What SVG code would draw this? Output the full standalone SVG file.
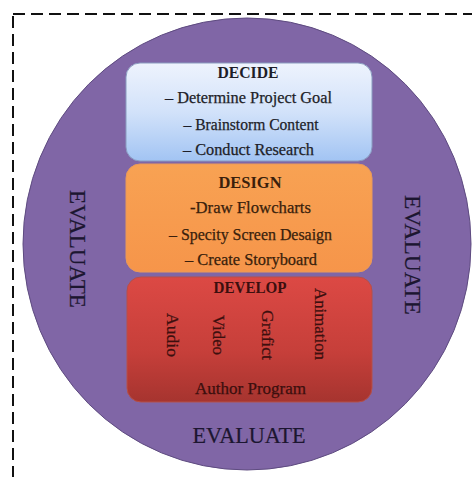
<svg xmlns="http://www.w3.org/2000/svg" width="472" height="477" viewBox="0 0 472 477">
  <defs>
    <linearGradient id="gDecide" x1="0" y1="0" x2="0" y2="1">
      <stop offset="0" stop-color="#EEF3FD"/>
      <stop offset="0.5" stop-color="#D2E2FA"/>
      <stop offset="1" stop-color="#A2C4F3"/>
    </linearGradient>
    <linearGradient id="gDesign" x1="0" y1="0" x2="0" y2="1">
      <stop offset="0" stop-color="#F8A253"/>
      <stop offset="1" stop-color="#F6954A"/>
    </linearGradient>
    <linearGradient id="gDevelop" x1="0" y1="0" x2="0" y2="1">
      <stop offset="0" stop-color="#DC4944"/>
      <stop offset="0.6" stop-color="#C63F3A"/>
      <stop offset="1" stop-color="#A6342F"/>
    </linearGradient>
    <style>
      .frame { fill: none; stroke: #111; stroke-width: 2; stroke-dasharray: 12 6; }
      .cycle { fill: #8066A6; stroke: #5E4B80; stroke-width: 1; }
      .box { stroke-width: 1; }
      text { font-family: "Liberation Serif", "DejaVu Serif", serif; text-anchor: middle; }
      .head { font-size: 16px; font-weight: bold; }
      .item { font-size: 16px; stroke-width: 0.25px; }
      .eval { font-size: 24px; fill: #1C1630; stroke: #1C1630; stroke-width: 0.2px; }
      .t-decide { fill: #1E1E28; stroke: #1E1E28; }
      .t-design { fill: #3A1F0C; stroke: #3A1F0C; }
      .t-develop { fill: #3C0F0E; stroke: #3C0F0E; }
      .head.t-decide, .head.t-design, .head.t-develop { stroke: none; }
    </style>
  </defs>

  <!-- dashed page frame, runs off the right and bottom edges -->
  <rect class="frame" x="13" y="14" width="480" height="490"/>

  <!-- outer evaluation cycle -->
  <g id="evaluate">
    <ellipse class="cycle" cx="247" cy="244" rx="224" ry="226"/>
    <text class="eval" transform="translate(78,249) rotate(90)" y="8" textLength="118" lengthAdjust="spacingAndGlyphs">EVALUATE</text>
    <text class="eval" transform="translate(413,255) rotate(90)" y="8" textLength="120" lengthAdjust="spacingAndGlyphs">EVALUATE</text>
    <text class="eval" x="249" y="443" font-size="25" textLength="113" lengthAdjust="spacingAndGlyphs">EVALUATE</text>
  </g>

  <g id="decide">
    <rect class="box" x="126" y="63" width="246" height="98" rx="14" fill="url(#gDecide)" stroke="#8A9CC0"/>
    <text class="head t-decide" x="248" y="78" textLength="61" lengthAdjust="spacingAndGlyphs">DECIDE</text>
    <text class="item t-decide" x="248.5" y="103" textLength="167" lengthAdjust="spacingAndGlyphs">– Determine Project Goal</text>
    <text class="item t-decide" x="251" y="130" textLength="135" lengthAdjust="spacingAndGlyphs">– Brainstorm Content</text>
    <text class="item t-decide" x="248.5" y="155" textLength="131" lengthAdjust="spacingAndGlyphs">– Conduct Research</text>
  </g>

  <g id="design">
    <rect class="box" x="126" y="164" width="246" height="108" rx="14" fill="url(#gDesign)" stroke="#E99A5A"/>
    <text class="head t-design" x="250" y="188" textLength="63" lengthAdjust="spacingAndGlyphs">DESIGN</text>
    <text class="item t-design" x="250.5" y="213" textLength="121" lengthAdjust="spacingAndGlyphs">-Draw Flowcharts</text>
    <text class="item t-design" x="250.5" y="240" textLength="163" lengthAdjust="spacingAndGlyphs">– Specity Screen Desaign</text>
    <text class="item t-design" x="251" y="265" textLength="132" lengthAdjust="spacingAndGlyphs">– Create Storyboard</text>
  </g>

  <g id="develop">
    <rect class="box" x="127" y="277" width="245" height="125" rx="14" fill="url(#gDevelop)" stroke="#B4504A"/>
    <text class="head t-develop" x="250" y="293" textLength="73" lengthAdjust="spacingAndGlyphs">DEVELOP</text>
    <text class="item t-develop" transform="translate(172.5,335) rotate(90)" y="5.5" textLength="44" lengthAdjust="spacingAndGlyphs">Audio</text>
    <text class="item t-develop" transform="translate(218,335) rotate(90)" y="5.5" textLength="40" lengthAdjust="spacingAndGlyphs">Video</text>
    <text class="item t-develop" transform="translate(267,335) rotate(90)" y="5.5" textLength="50" lengthAdjust="spacingAndGlyphs">Grafict</text>
    <text class="item t-develop" transform="translate(320,324) rotate(90)" y="5.5" textLength="72" lengthAdjust="spacingAndGlyphs">Animation</text>
    <text class="item t-develop" x="250.5" y="394" textLength="111" lengthAdjust="spacingAndGlyphs">Author Program</text>
  </g>
</svg>
